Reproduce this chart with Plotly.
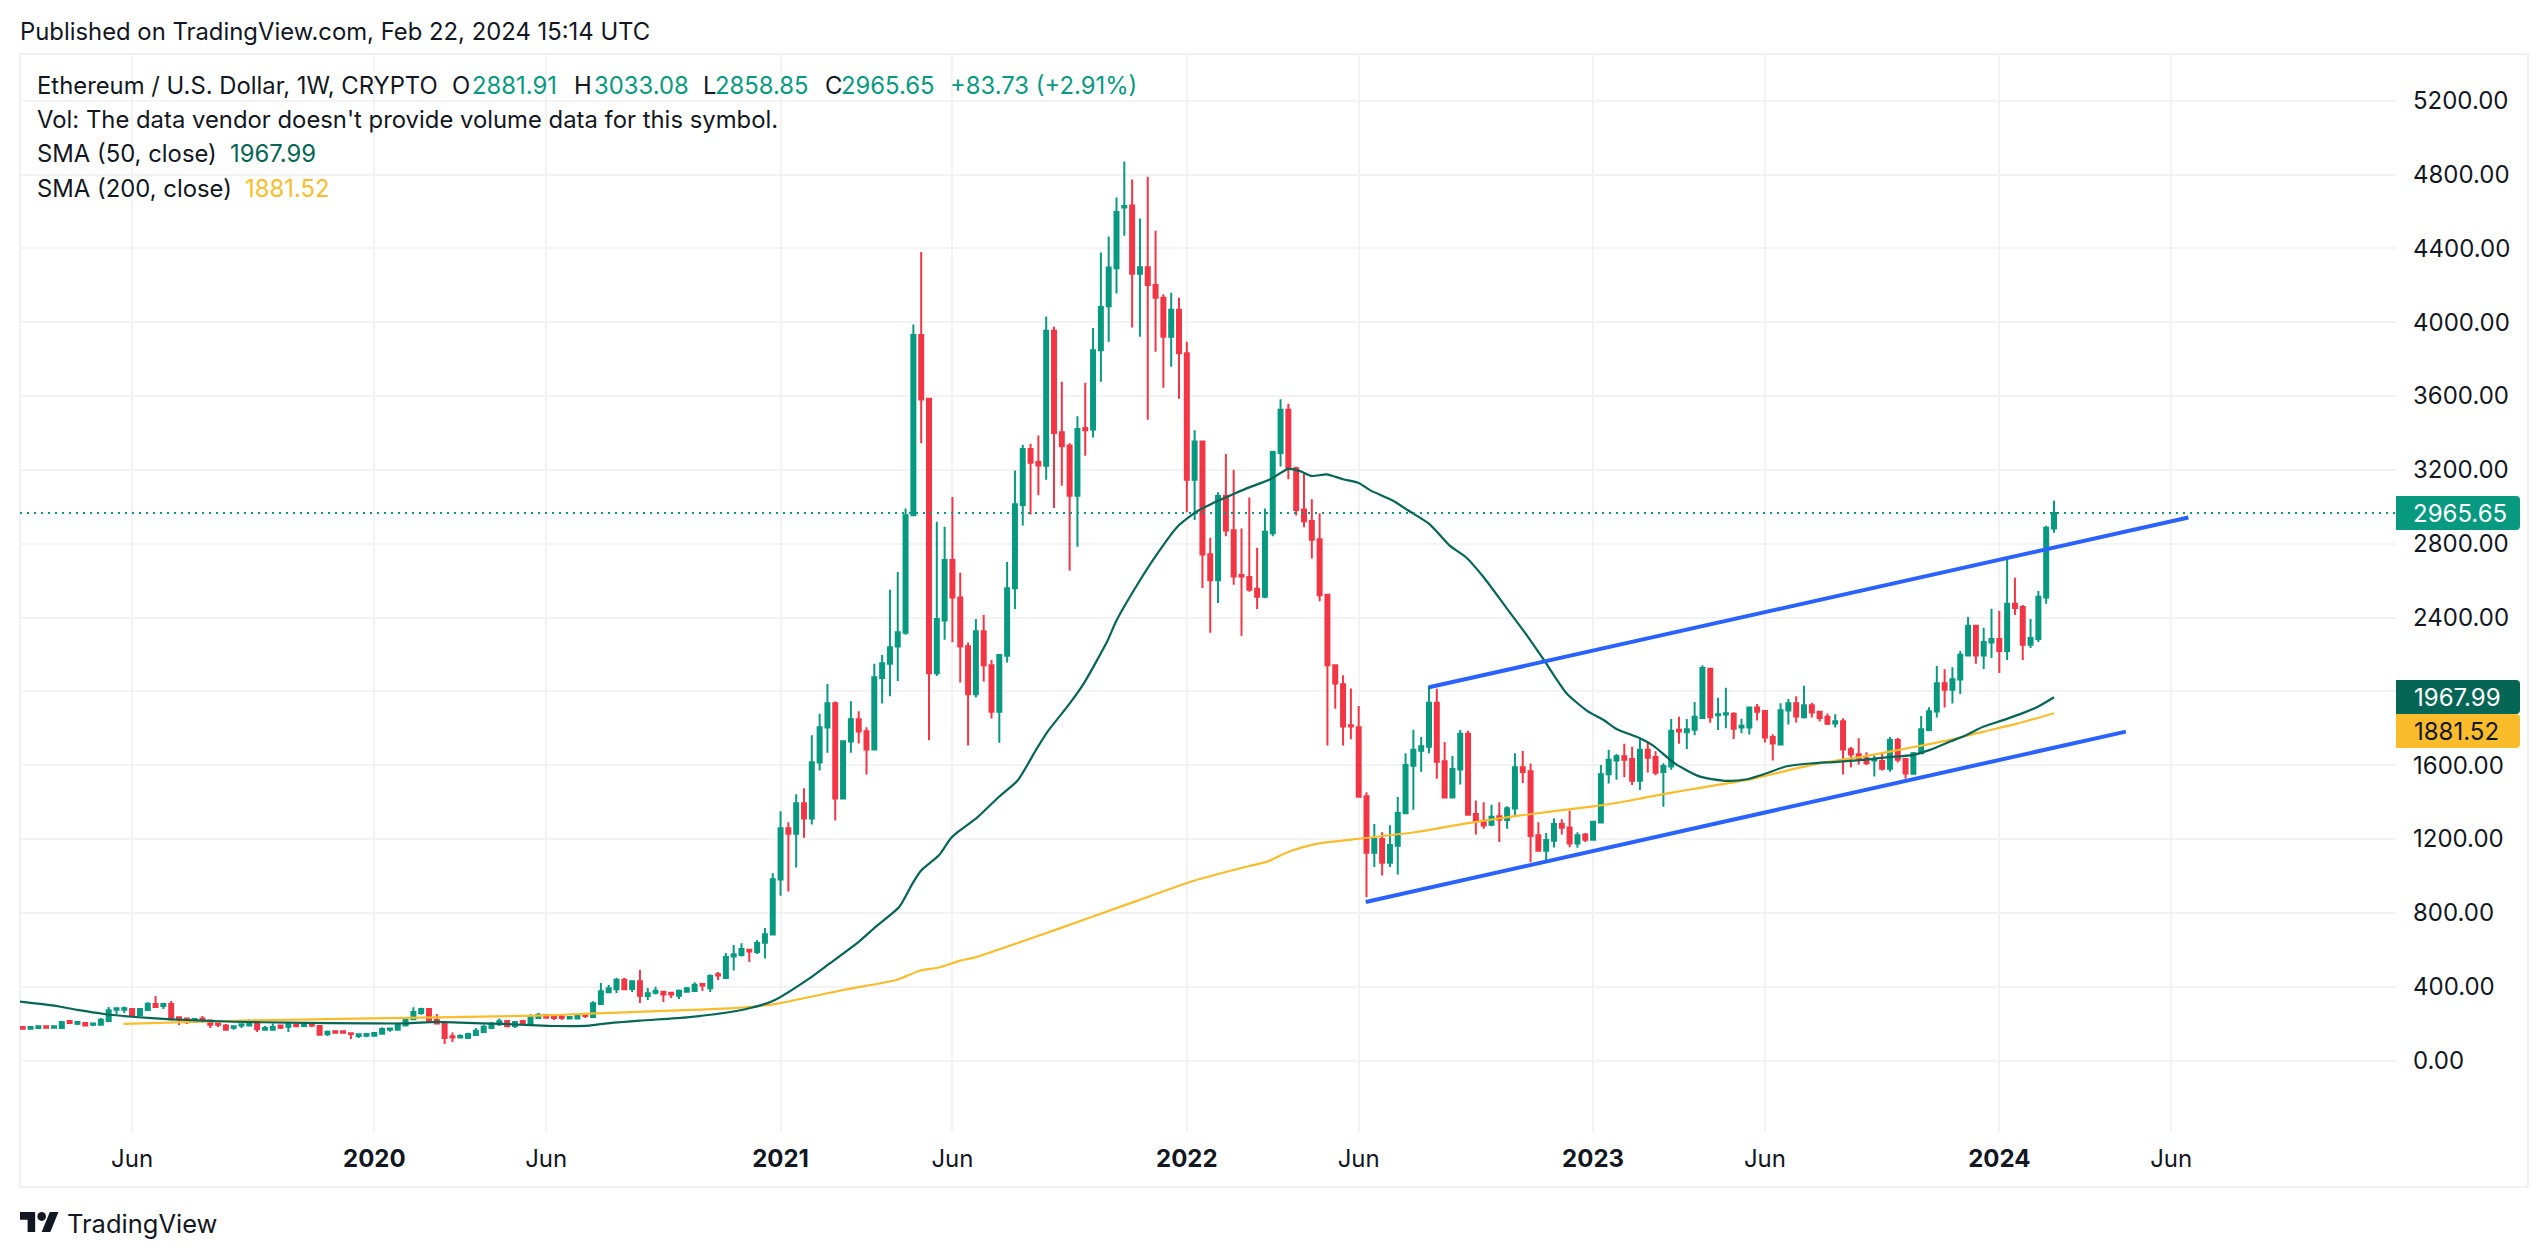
import pandas as pd
import plotly.graph_objects as go

# ---- data (weekly candles, first bar 2019-02-25) ----
first_week = "2019-02-25"
opens = [181,172,176,185,178,176,214,199,203,194,194,214,275,275,279,247,274,306,295,306,
 234,228,210,228,217,201,189,178,189,189,212,167,167,189,183,194,187,199,187,142,
 158,158,147,133,134,134,145,167,167,189,223,257,279,219,205,132,124,122,138,154,
 176,196,214,187,214,194,230,246,241,238,227,227,252,236,306,370,386,438,387,429,
 349,367,373,367,351,373,377,414,391,467,447,563,571,600,588,638,682,980,1258,1229,
 1394,1311,1614,1804,1936,1419,1728,1849,1784,1685,2073,2150,2243,2318,2954,3931,3585,2098,2384,2712,
 2508,2245,1984,2326,2141,1890,2193,2558,3010,3313,3243,3222,3954,3404,3332,3060,3427,3419,3848,4087,
 4292,4622,4632,4263,4298,4201,4132,3921,4068,3832,3147,3353,2743,2602,3060,2873,2631,2620,2556,2512,
 2857,3292,3526,3209,2985,2923,2824,2524,2141,2038,1816,1806,1431,1126,1200,1072,1164,1339,1597,1678,
 1700,1938,1621,1425,1577,1770,1335,1299,1277,1323,1303,1365,1589,1567,1220,1136,1190,1281,1263,1176,
 1224,1196,1289,1551,1625,1649,1633,1515,1684,1644,1563,1593,1792,1778,1792,1856,2123,1871,1874,1878,
 1804,1804,1912,1894,1753,1712,1896,1936,1860,1925,1889,1862,1826,1838,1686,1659,1638,1625,1623,1580,
 1737,1634,1553,1665,1791,1891,2044,2008,2064,2194,2355,2194,2264,2284,2219,2474,2457,2252,2284,2508,
 2881.91]
highs = [181,181,185,185,185,214,219,209,209,201,230,290,283,293,279,282,315,349,313,322,
 234,228,225,241,217,201,198,185,196,223,212,187,201,194,205,205,201,199,187,162,
 158,158,147,142,144,149,180,175,196,228,288,286,279,252,208,152,142,151,176,194,
 208,228,215,212,219,250,257,252,243,252,236,252,252,321,420,409,449,449,435,490,
 393,400,376,367,384,398,424,414,467,480,583,626,635,600,653,718,1014,1350,1291,1442,
 1475,1762,1878,2040,1945,1735,1947,1892,1806,2150,2197,2550,2647,2990,3987,4381,3591,2919,2892,3053,
 2643,2264,2392,2413,2170,2203,2701,3197,3336,3342,3386,4031,3975,3678,3344,3491,3672,3969,4377,4464,
 4676,4871,4773,4562,4788,4495,4151,4159,4132,3894,3415,3359,2832,3079,3286,3201,2882,3050,2778,2990,
 3303,3583,3558,3217,3181,3041,2965,2528,2143,2087,2016,1920,1453,1281,1237,1275,1427,1665,1792,1752,
 2030,2014,1726,1650,1790,1786,1409,1399,1385,1399,1377,1665,1677,1609,1291,1232,1313,1307,1353,1236,
 1232,1297,1601,1684,1661,1716,1700,1742,1722,1676,1611,1850,1862,1850,1942,2142,2127,1965,2019,1887,
 1851,1918,1932,1898,1768,1936,1959,1974,2030,1938,1894,1880,1876,1854,1699,1746,1670,1654,1670,1752,
 1748,1639,1672,1867,1914,2138,2120,2131,2218,2403,2357,2344,2447,2436,2718,2615,2468,2392,2544,2897,
 3033.08]
lows = [172,172,171,178,178,176,198,192,189,187,194,214,252,257,247,247,274,284,279,223,
 192,198,210,205,176,181,167,167,176,189,154,167,167,171,154,185,187,180,140,133,
 145,151,116,122,127,134,143,156,167,189,219,248,214,201,89,100,124,120,136,151,
 170,187,183,176,187,194,225,230,219,219,227,227,230,236,303,364,366,384,371,311,
 328,357,317,339,333,370,373,377,371,436,445,487,563,534,577,552,680,893,915,1045,
 1207,1278,1571,1668,1300,1416,1668,1717,1549,1680,1934,1973,2056,2307,2950,3344,1735,2083,2280,2266,
 2048,1706,1967,2054,1853,1722,2156,2446,2898,2958,3062,3147,2994,3114,2654,2784,3276,3375,3678,3894,
 4155,4468,3971,3921,3471,3840,3645,3759,3585,2970,2929,2560,2318,2479,2840,2577,2301,2540,2446,2504,
 2840,3218,3149,2953,2889,2720,2488,1706,1906,1706,1740,1425,884,1048,1002,1048,1008,1339,1359,1565,
 1665,1527,1421,1423,1495,1327,1224,1255,1269,1184,1255,1325,1503,1074,1136,1074,1154,1224,1156,1152,
 1184,1194,1287,1501,1521,1535,1493,1465,1561,1545,1375,1575,1716,1688,1762,1850,1830,1791,1800,1742,
 1773,1766,1842,1723,1625,1706,1820,1831,1853,1858,1836,1818,1804,1549,1587,1603,1601,1538,1571,1565,
 1614,1526,1550,1663,1784,1858,1912,1934,1986,2190,2149,2121,2181,2100,2170,2414,2170,2235,2268,2474,
 2858.85]
closes = [172,181,185,178,185,209,203,209,189,201,221,272,283,283,247,279,308,290,306,223,
 223,207,225,217,194,194,167,185,196,212,169,176,181,178,196,185,201,189,140,156,
 151,151,143,142,144,149,171,174,196,228,263,279,214,201,122,125,133,143,161,183,
 199,212,185,208,201,236,248,232,230,230,236,246,241,310,375,391,438,386,429,351,
 364,378,358,357,378,391,411,407,458,460,561,575,604,591,637,684,982,1258,1229,1394,
 1311,1616,1806,1936,1419,1730,1849,1782,1685,2077,2152,2239,2320,2954,3931,3581,2098,2392,2712,2508,
 2243,1984,2326,2141,1890,2197,2558,3014,3313,3239,3224,3954,3400,3328,3060,3421,3415,3848,4083,4296,
 4597,4630,4263,4298,4201,4132,3921,4068,3832,3147,3353,2741,2602,3058,2871,2622,2622,2550,2512,2865,
 3297,3525,3205,2983,2921,2822,2520,2141,2042,1810,1810,1429,1126,1200,1072,1168,1341,1601,1684,1702,
 1938,1619,1425,1579,1770,1331,1295,1273,1321,1305,1367,1589,1563,1216,1136,1194,1281,1261,1176,1220,
 1196,1293,1551,1629,1649,1629,1515,1684,1640,1559,1595,1786,1782,1794,1862,2127,1860,1876,1882,1797,
 1813,1912,1889,1750,1717,1898,1936,1864,1925,1885,1856,1824,1838,1685,1658,1636,1611,1632,1580,1737,
 1629,1555,1665,1795,1892,2044,2008,2066,2198,2355,2194,2268,2284,2219,2474,2452,2252,2289,2512,2886,
 2965.65]

sma50_weeks = [-1,4,7,10.4,14,19,23,27,34,44.5,49,53,56,61.5,65,68,72.5,74.5,79,85,89.5,93,96,100.7,103.2,107,109.2,
 112.2,113.9,115,117.3,118.8,119.9,122,125,127.4,129.7,131.2,133.9,135.8,138.8,140,142.4,144.9,147.8,150.3,152.2,
 155.2,157,159.7,162,163.5,165,166.9,169,171,172.5,175.4,177.6,180.1,182.7,184.8,187,190,192.3,194.6,197.6,200.2,
 202.3,204,207,208.7,211.5,214.7,218.1,220.7,223.2,225.8,228.8,232.2,235.6,238.2,242,244.1,246.7,248.8,251,253.5,256,258,260]
sma50_vals = [322,297,274,252,237,223,216,210,205,201,201,209,205,198,192,187,189,200,216,234,256,283,322,445,523,
 643,725,833,960,1029,1113,1204,1245,1310,1430,1520,1683,1783,1928,2042,2270,2384,2560,2726,2892,2975,3017,
 3073,3105,3149,3205,3193,3167,3175,3149,3129,3089,3033,2973,2905,2788,2724,2618,2447,2317,2177,1990,1896,
 1846,1796,1746,1706,1608,1538,1515,1524,1556,1594,1609,1618,1629,1641,1656,1683,1728,1764,1809,1844,1882,1918,1967.99]
sma200_weeks = [12.9,29.5,44.5,65.8,72.6,83,91,96,105,111.8,114.8,117.3,119.9,122,132,142.6,150,157,159.2,162.2,165.6,
 171.6,178.4,184.8,191.2,201,204,208.3,213.8,220.7,229.6,235.6,242.4,246.7,251,255.2,260]
sma200_vals = [198,218,228,243,254,270,284,304,382,436,486,504,540,560,705,865,975,1054,1076,1134,1174,
 1204,1238,1285,1325,1377,1395,1430,1471,1520,1607,1647,1701,1737,1782,1824,1881.52]
lower_channel_weeks = [171.9,269.2]
lower_channel_vals = [859,1782]
upper_channel_weeks = [180.0,277.2]
upper_channel_vals = [2022,2942]
x_tick_dates = ["2019-06-03","2020-01-06","2020-06-08","2021-01-04","2021-06-07","2022-01-03",
                "2022-06-06","2023-01-02","2023-06-05","2024-01-01","2024-06-03"]
x_tick_text = ["Jun","<b>2020</b>","Jun","<b>2021</b>","Jun","<b>2022</b>","Jun","<b>2023</b>","Jun","<b>2024</b>","Jun"]
y_tick_vals = [0,400,800,1200,1600,2000,2400,2800,3200,3600,4000,4400,4800,5200]
y_tick_text = ["0.00","400.00","800.00","1200.00","1600.00","","2400.00","2800.00","3200.00","3600.00",
               "4000.00","4400.00","4800.00","5200.00"]

assert len(opens)==len(highs)==len(lows)==len(closes)==261, (len(opens),len(highs),len(lows),len(closes))

GREEN, RED = "#089981", "#f23645"
SMA50, SMA200, BLUE = "#056656", "#fbbc2c", "#2962ff"
INK, GRID, FRAME = "#131722", "#f3f3f4", "#f0f1f5"
W, H = 2548, 1258
L, R, T, B = 20, 2396, 54, 1132          # plot pane in page pixels
ZERO_PX, PX_PER_UNIT = 1060.5, 73.83/400  # price axis
FONT = "Inter"
FS = 24
LEG = 23.85

base = pd.Timestamp(first_week)
def wk(i):
    return base + pd.Timedelta(days=float(i)*7)
def week_of_px(px):
    return (px-22.75)/7.8125
def px(x): return (x-L)/(R-L)
def py(y): return 1-(y-T)/(B-T)

dates = [wk(i) for i in range(len(opens))]

fig = go.Figure()
fig.add_trace(go.Candlestick(x=dates, open=opens, high=highs, low=lows, close=closes,
    increasing=dict(line=dict(color=GREEN,width=2),fillcolor=GREEN),
    decreasing=dict(line=dict(color=RED,width=2),fillcolor=RED),
    whiskerwidth=0, showlegend=False))
fig.add_trace(go.Scatter(x=[wk(i) for i in sma200_weeks], y=sma200_vals, mode="lines",
    line=dict(color=SMA200,width=2.2,shape="spline",smoothing=0.6), showlegend=False))
fig.add_trace(go.Scatter(x=[wk(i) for i in sma50_weeks], y=sma50_vals, mode="lines",
    line=dict(color=SMA50,width=2.2,shape="spline",smoothing=0.6), showlegend=False))
fig.add_trace(go.Scatter(x=[wk(i) for i in lower_channel_weeks], y=lower_channel_vals, mode="lines",
    line=dict(color=BLUE,width=4), showlegend=False))
fig.add_trace(go.Scatter(x=[wk(i) for i in upper_channel_weeks], y=upper_channel_vals, mode="lines",
    line=dict(color=BLUE,width=4), showlegend=False))

shapes = []
# outer frame
shapes.append(dict(type="rect", xref="paper", yref="paper", layer="below",
    x0=px(20), x1=px(2528), y0=py(54), y1=py(1187), line=dict(color=FRAME,width=2)))
# last price dotted line
shapes.append(dict(type="line", xref="paper", yref="y", x0=0, x1=1, y0=closes[-1], y1=closes[-1],
    line=dict(color=GREEN,width=2,dash="2px,5px")))

def badge(y0, y1, color):
    x0, x1, r = 2396, 2520, 4
    p = (f"M {px(x0)},{py(y0)} L {px(x1-r)},{py(y0)} Q {px(x1)},{py(y0)} {px(x1)},{py(y0+r)} "
         f"L {px(x1)},{py(y1-r)} Q {px(x1)},{py(y1)} {px(x1-r)},{py(y1)} L {px(x0)},{py(y1)} Z")
    shapes.append(dict(type="path", path=p, xref="paper", yref="paper", fillcolor=color,
                       line=dict(width=0), layer="above"))
badge(496,530,GREEN); badge(680,714,SMA50); badge(714,748,SMA200)

# logo
def logo_path(cmds):
    out=[]
    for c in cmds:
        if len(c)==1: out.append(c[0])
        else: out.append(f"{c[0]} {px(20+c[1]*39/36)},{py(1212+(c[2]-4)*20/18)}")
    return " ".join(out)
t_shape=[("M",14,22),("L",7,22),("L",7,11),("L",0,11),("L",0,4),("L",14,4),("L",14,22),("Z",)]
slash=[("M",28,22),("L",20,22),("L",27.5,4),("L",35.5,4),("L",28,22),("Z",)]
for s in (t_shape, slash):
    shapes.append(dict(type="path", path=logo_path(s), xref="paper", yref="paper",
                       fillcolor=INK, line=dict(width=0)))
shapes.append(dict(type="circle", xref="paper", yref="paper", fillcolor=INK, line=dict(width=0),
    x0=px(20+16*39/36), x1=px(20+24*39/36), y0=py(1212+0*20/18), y1=py(1212+8*20/18)))

ann = []
def text(s, x, y, color=INK, size=FS, anchor="left"):
    ann.append(dict(text=s, x=px(x), y=py(y), xref="paper", yref="paper", xanchor=anchor, yanchor="middle",
                    showarrow=False, font=dict(family=FONT,size=size,color=color), align="left",
                    borderpad=0, borderwidth=0))

text("Published on TradingView.com, Feb 22, 2024 15:14 UTC", 20, 32, size=LEG)
row1 = [("Ethereum / U.S. Dollar, 1W, CRYPTO",37,INK),("O",452,INK),("2881.91",472,GREEN),("H",574,INK),
        ("3033.08",594,GREEN),("L",703,INK),("2858.85",715,GREEN),("C",825,INK),("2965.65",841,GREEN),
        ("+83.73 (+2.91%)",950,GREEN)]
for s,x,c in row1:
    text(s,x,85,c,size=LEG)
text("Vol: The data vendor doesn't provide volume data for this symbol.",37,120,size=LEG)
text("SMA (50, close)",37,154,size=LEG)
text("1967.99",230,154,SMA50,size=LEG)
text("SMA (200, close)",37,188,size=LEG)
text("1881.52",245,188,SMA200,size=LEG)
text("2965.65",2413,513,"#ffffff")
text("1967.99",2414,697,"#ffffff")
text("1881.52",2414,731,INK)
text("TradingView",67,1223,size=25.5)

fig.update_layout(width=W, height=H, autosize=False, paper_bgcolor="#ffffff", plot_bgcolor="#ffffff",
    margin=dict(l=L, r=W-R, t=T, b=H-B, pad=0), boxgap=0.49, boxgroupgap=0, shapes=shapes, annotations=ann,
    showlegend=False, hovermode=False, font=dict(family=FONT,size=FS,color=INK),
    xaxis=dict(type="date", range=[wk(week_of_px(L)), wk(week_of_px(R))], rangeslider=dict(visible=False),
        tickmode="array", tickvals=x_tick_dates, ticktext=x_tick_text, showgrid=True, gridcolor=GRID, gridwidth=2,
        zeroline=False, showline=False, ticks="", ticklabelstandoff=10),
    yaxis=dict(side="right", range=[(ZERO_PX-B)/PX_PER_UNIT, (ZERO_PX-T)/PX_PER_UNIT],
        tickmode="array", tickvals=y_tick_vals, ticktext=y_tick_text,
        showgrid=True, gridcolor=GRID, gridwidth=2, zeroline=False, showline=False,
        ticks="", ticklabelstandoff=16))

fig.write_html("out.html", config=dict(displayModeBar=False),
               post_script="document.body.style.margin='0';")
